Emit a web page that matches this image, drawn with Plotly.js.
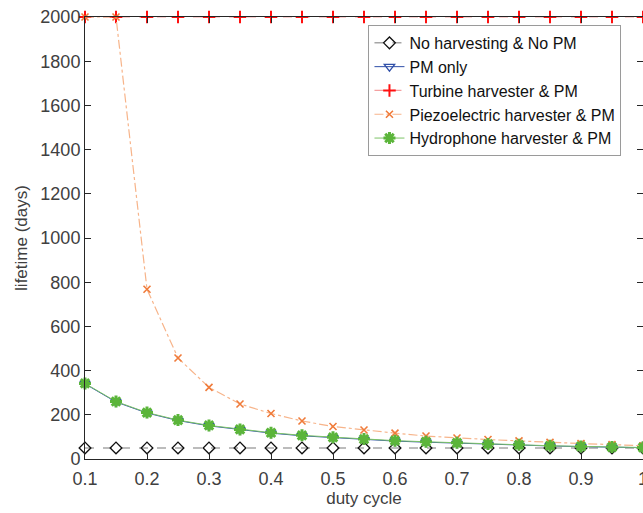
<!DOCTYPE html>
<html><head><meta charset="utf-8">
<script src="https://cdn.plot.ly/plotly-3.0.1.min.js"></script>
<style>body{margin:0;background:#fff}#chart{width:643px;height:513px}</style>
</head><body><div id="chart"></div>
<script>
const dutyCycle = [0.1,0.15,0.2,0.25,0.3,0.35,0.4,0.45,0.5,0.55,0.6,0.65,0.7,0.75,0.8,0.85,0.9,0.95,1.0];
const noHarvest = [50,50,50,50,50,50,50,50,50,50,50,50,50,50,50,50,50,50,50];
const pmOnly = [340,258,208,174,150,132,117,105,96,88,81,76,71,66,62,59,56,53,51];
const turbine = [2000,2000,2000,2000,2000,2000,2000,2000,2000,2000,2000,2000,2000,2000,2000,2000,2000,2000,2000];
const piezo = [2000,2000,768,457,324,249,206,172,147,131,117,104,95,88,82,75,70,65,60];
const hydro = [342,260,210,176,152,134,119,107,98,90,83,78,73,68,64,60,57,54,52];
const names = ["No harvesting & No PM","PM only","Turbine harvester & PM","Piezoelectric harvester & PM","Hydrophone harvester & PM"];
const xTicks = [0.1,0.2,0.3,0.4,0.5,0.6,0.7,0.8,0.9,1];
const yTicks = [0,200,400,600,800,1000,1200,1400,1600,1800,2000];

const traces = [
 {x:dutyCycle,y:noHarvest,name:names[0],mode:"lines+markers",cliponaxis:false,
  line:{color:"#a6a6a6",width:1.5,dash:"dash"},
  marker:{symbol:"diamond-open",size:9,color:"#111",line:{width:1.3,color:"#111"}}},
 {x:dutyCycle,y:pmOnly,name:names[1],mode:"lines+markers",cliponaxis:false,
  line:{color:"#2f4fa8",width:1},
  marker:{symbol:"triangle-down-open",size:9,color:"#2f4fa8",line:{width:1.3,color:"#2f4fa8"}}},
 {x:dutyCycle,y:turbine,name:names[2],mode:"lines+markers",cliponaxis:false,
  line:{color:"#f4a0a0",width:1.2,dash:"dash"},
  marker:{symbol:"cross-thin-open",size:9,color:"#ff1010",line:{width:2,color:"#ff1010"}}},
 {x:dutyCycle,y:piezo,name:names[3],mode:"lines+markers",cliponaxis:false,
  line:{color:"#f7b48a",width:1.2,dash:"dashdot"},
  marker:{symbol:"x-thin-open",size:7,color:"#f07b3a",line:{width:1.6,color:"#f07b3a"}}},
 {x:dutyCycle,y:hydro,name:names[4],mode:"lines+markers",cliponaxis:false,
  line:{color:"#7cc466",width:1,dash:"solid"},
  marker:{symbol:"asterisk-open",size:10,color:"#5bb53a",line:{width:3,color:"#5bb53a"}}}
];

const axisCommon = {showgrid:false,zeroline:false,showline:true,linecolor:"#262626",linewidth:1,
  ticks:"inside",ticklen:6,tickcolor:"#262626",mirror:"ticks",ticklabeloverflow:"allow",
  tickfont:{family:"Liberation Sans, Arial, sans-serif",size:18,color:"#404040"}};

const layout = {
 width:643,height:513,margin:{l:85,r:0,t:17,b:54},
 paper_bgcolor:"#fff",plot_bgcolor:"#fff",showlegend:true,
 font:{family:"Liberation Sans, Arial, sans-serif"},
 xaxis:Object.assign({},axisCommon,{range:[0.1,1],tickvals:xTicks,ticktext:xTicks.map(String),
   ticklabelstandoff:3,
   title:{text:"duty cycle",font:{size:17,color:"#404040"},standoff:2}}),
 yaxis:Object.assign({},axisCommon,{range:[0,2000],tickvals:yTicks,ticktext:yTicks.map(String),
   title:{text:"lifetime (days)",font:{size:17,color:"#404040"},standoff:8}}),
 legend:{x:0.508,y:0.982,xanchor:"left",yanchor:"top",bgcolor:"#fff",bordercolor:"#9a9a9a",borderwidth:1,
   font:{size:16,color:"#111"},tracegroupgap:0,itemwidth:30}
};
Plotly.newPlot("chart",traces,layout,{displayModeBar:false,staticPlot:true});
</script></body></html>
